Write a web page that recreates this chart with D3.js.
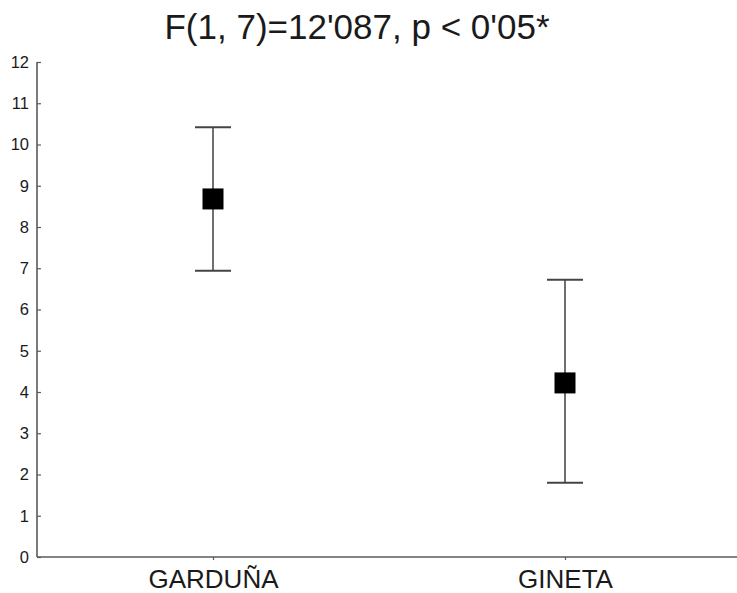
<!DOCTYPE html>
<html lang="en">
<head>
<meta charset="UTF-8">
<title>GARDUÑA vs GINETA</title>
<script src="https://d3js.org/d3.v7.min.js"></script>
<style>
  body { margin: 0; background: #fff; }
  text { font-family: "Liberation Sans", Arial, sans-serif; fill: #1a1a1a; }
</style>
</head>
<body>
<svg width="737" height="593"></svg>
<script>
// values
const species = ["GARDUÑA", "GINETA"];
const means = [8.68, 4.22];
const upper = [10.42, 6.72];
const lower = [6.94, 1.8];
const yTicks = [0, 1, 2, 3, 4, 5, 6, 7, 8, 9, 10, 11, 12];
const title = "F(1, 7)=12'087, p < 0'05*";

const svg = d3.select("svg");
const mLeft = 37, mRight = 741, mTop = 62, mBottom = 557;

const x = d3.scalePoint().domain(species).range([mLeft, mRight]).padding(0.5);
const y = d3.scaleLinear().domain([0, 12]).range([mBottom, mTop]);

// axes
const yAxis = svg.append("g")
    .attr("transform", `translate(${mLeft},0)`)
    .call(d3.axisLeft(y).tickValues(yTicks).tickSizeInner(-4).tickSizeOuter(0).tickPadding(12));
yAxis.select(".domain").attr("stroke", "#5a5a5a").attr("stroke-width", 1.6)
    .attr("d", `M0,${mTop}V${mBottom}`);
yAxis.selectAll(".tick line").attr("stroke", "#5a5a5a").attr("stroke-width", 1.2);
yAxis.selectAll(".tick text").attr("font-size", 16.5).attr("x", -8).style("fill", "#1a1a1a");

const xAxis = svg.append("g")
    .attr("transform", `translate(0,${mBottom})`)
    .call(d3.axisBottom(x).tickSize(3).tickPadding(10));
xAxis.select(".domain").attr("stroke", "#5a5a5a").attr("stroke-width", 1.6)
    .attr("d", `M${mLeft},0H737`);
xAxis.selectAll(".tick line").attr("stroke", "#5a5a5a").attr("stroke-width", 1.2);
xAxis.selectAll(".tick text").attr("font-size", 26).style("fill", "#1a1a1a");

// error bars
const g = svg.append("g");
const capW = 18;
species.forEach((s, i) => {
  const cx = x(s);
  g.append("line").attr("x1", cx).attr("x2", cx).attr("y1", y(upper[i])).attr("y2", y(lower[i]))
    .attr("stroke", "#222").attr("stroke-width", 1.3);
  [upper[i], lower[i]].forEach(v => {
    g.append("line").attr("x1", cx - capW).attr("x2", cx + capW).attr("y1", y(v)).attr("y2", y(v))
      .attr("stroke", "#444").attr("stroke-width", 2);
  });
  g.append("rect").attr("x", cx - 10.5).attr("y", y(means[i]) - 10.5)
    .attr("width", 21).attr("height", 21).attr("fill", "#000");
});

svg.append("text").attr("x", 357).attr("y", 39).attr("text-anchor", "middle")
    .attr("font-size", 35).text(title);
</script>
</body>
</html>
